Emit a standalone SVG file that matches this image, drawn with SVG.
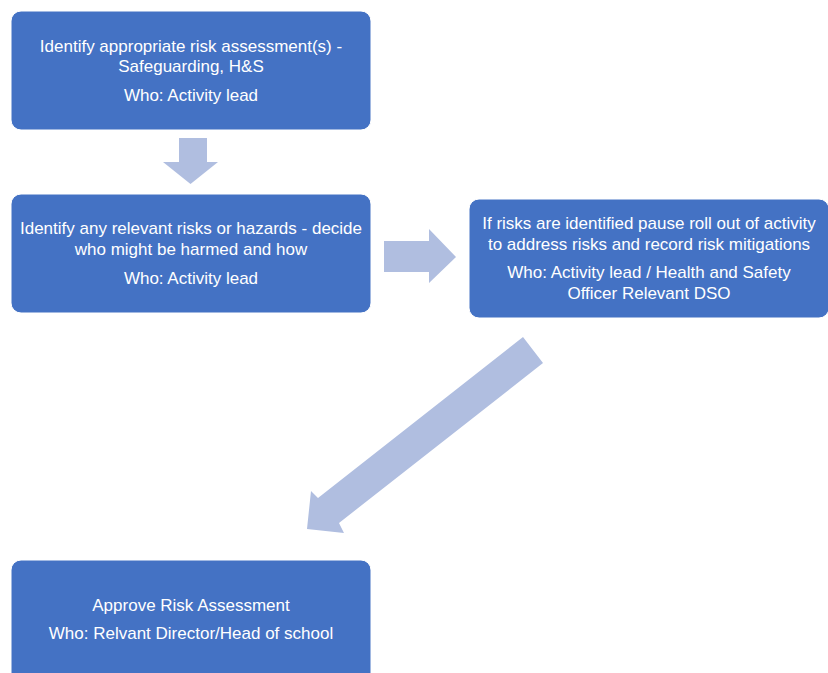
<svg xmlns="http://www.w3.org/2000/svg" width="828" height="673" viewBox="0 0 828 673">
<style>
.box{fill:#4472C4;stroke:#FFFFFF;stroke-width:1}
.arr{fill:#B0BEE0}
text{font-family:"Liberation Sans",Arial,sans-serif;font-size:17px;fill:#FFFFFF;text-anchor:middle}
</style>
<rect width="828" height="673" fill="#FFFFFF"/>
<g id="connectors">
<polygon class="arr" points="179,138 207,138 207,162 218,162 190.5,184 163,162 179,162"/>
<polygon class="arr" points="384,241 429,241 429,229 456,257 429,283 429,272 384,272"/>
<polygon class="arr" points="523,337 543,363 339,523 344,533 307,529 311,491 318,498"/>
</g>
<g id="node1">
<rect class="box" x="11" y="11" width="360" height="119" rx="10"/>
<text x="191" y="52">Identify appropriate risk assessment(s) -</text>
<text x="191" y="72">Safeguarding, H&amp;S</text>
<text x="191" y="101">Who: Activity lead</text>
</g>
<g id="node2">
<rect class="box" x="11" y="194" width="360" height="119" rx="10"/>
<text x="191" y="234">Identify any relevant risks or hazards - decide</text>
<text x="191" y="255">who might be harmed and how</text>
<text x="191" y="284">Who: Activity lead</text>
</g>
<g id="node3">
<rect class="box" x="469" y="199" width="360" height="119" rx="10"/>
<text x="649" y="229">If risks are identified pause roll out of activity</text>
<text x="649" y="250">to address risks and record risk mitigations</text>
<text x="649" y="278">Who: Activity lead / Health and Safety</text>
<text x="649" y="299">Officer Relevant DSO</text>
</g>
<g id="node4">
<rect class="box" x="11" y="560" width="360" height="130" rx="10"/>
<text x="191" y="611">Approve Risk Assessment</text>
<text x="191" y="639">Who: Relvant Director/Head of school</text>
</g>
</svg>
